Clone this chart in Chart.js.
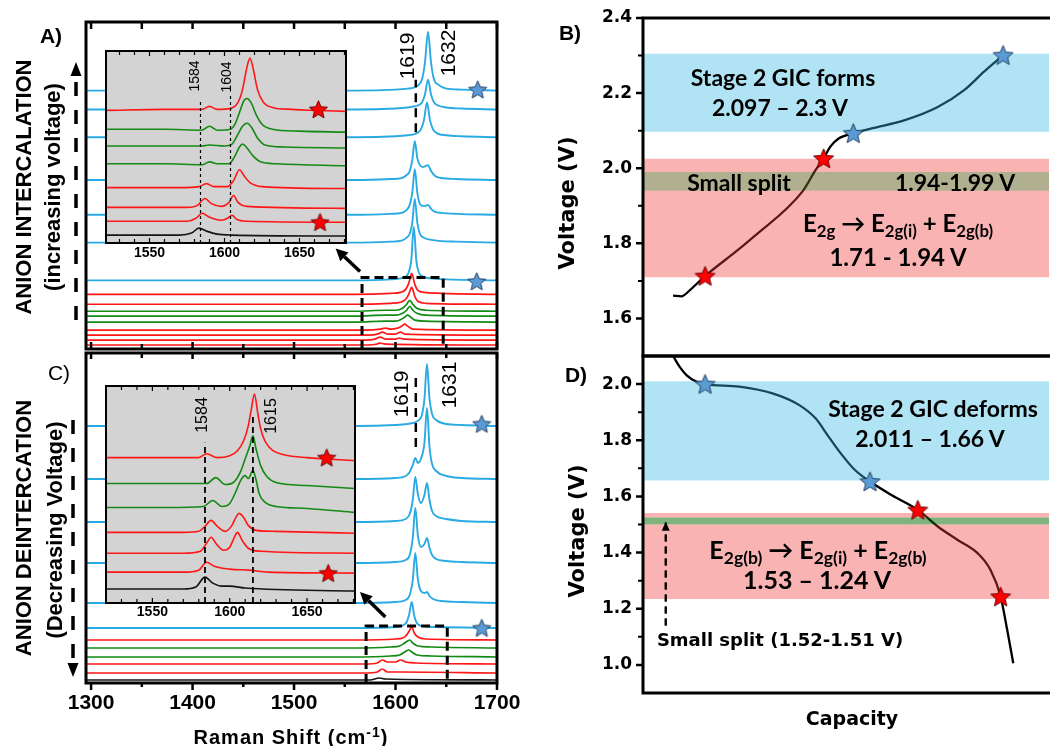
<!DOCTYPE html>
<html><head><meta charset="utf-8">
<script src="https://cdn.jsdelivr.net/npm/chart.js@4.4.1/dist/chart.umd.min.js"></script>
<style>
html,body{margin:0;padding:0;background:#fff}
body{width:1050px;height:746px;overflow:hidden;position:relative}
canvas{position:absolute;display:block}
.t{position:absolute;white-space:nowrap;transform:translate(-50%,-50%);line-height:1;color:#000}
.r{transform:translate(-50%,-50%) rotate(-90deg)}
.ar{font-family:'Liberation Sans',Arial,sans-serif}
.dj{font-family:'DejaVu Sans',sans-serif;font-weight:bold}
.lt{font-family:Lato,'Open Sans',sans-serif;font-weight:bold}
.s{font-size:0.7em;position:relative;top:0.3em;line-height:0}
.sp{font-size:0.7em;position:relative;top:-0.5em;line-height:0}
</style></head><body>
<canvas id="cA" width="540" height="360" style="left:0;top:0"></canvas>
<canvas id="cC" width="540" height="406" style="left:0;top:340px"></canvas>
<canvas id="cIA" width="265" height="230" style="left:95px;top:40px"></canvas>
<canvas id="cIC" width="275" height="250" style="left:95px;top:375px"></canvas>
<canvas id="cB" width="520" height="392" style="left:540px;top:-12px"></canvas>
<canvas id="cD" width="520" height="420" style="left:540px;top:326px"></canvas>

<div class="t ar" style="left:51px;top:35px;font-size:21px;font-weight:bold">A)</div>
<div class="t ar" style="left:59px;top:372px;font-size:21px">C)</div>
<div class="t r ar" style="left:24px;top:187px;font-size:22px;font-weight:bold">ANION INTERCALATION</div>
<div class="t r ar" style="left:53px;top:187px;font-size:22px;font-weight:bold">(increasing voltage)</div>
<div class="t r ar" style="left:24px;top:528px;font-size:22px;font-weight:bold">ANION DEINTERCATION</div>
<div class="t r ar" style="left:55px;top:530px;font-size:22px;font-weight:bold">(Decreasing Voltage)</div>
<div class="t r ar" style="left:406px;top:56px;font-size:21px">1619</div>
<div class="t r ar" style="left:447px;top:53px;font-size:21px">1632</div>
<div class="t r ar" style="left:400px;top:394px;font-size:21px">1619</div>
<div class="t r ar" style="left:448px;top:385px;font-size:21px">1631</div>
<div class="t r ar" style="left:194px;top:76px;font-size:14px">1584</div>
<div class="t r ar" style="left:226px;top:77px;font-size:14px">1604</div>
<div class="t r ar" style="left:202px;top:415px;font-size:16px">1584</div>
<div class="t r ar" style="left:271px;top:416px;font-size:16px">1615</div>
<div class="t ar" style="left:291px;top:737px;font-size:20px;font-weight:bold;letter-spacing:1px">Raman Shift (cm<span class="sp">-1</span>)</div>

<div class="t ar" style="left:570px;top:32px;font-size:21px;font-weight:bold">B)</div>
<div class="t ar" style="left:576px;top:374px;font-size:21px;font-weight:bold">D)</div>
<div class="t r dj" style="left:567px;top:203px;font-size:21px">Voltage (V)</div>
<div class="t r dj" style="left:577px;top:531px;font-size:21px">Voltage (V)</div>
<div class="t dj" style="left:852px;top:718px;font-size:19px">Capacity</div>
<div class="t lt" style="left:783px;top:77px;font-size:23px">Stage 2 GIC forms</div>
<div class="t lt" style="left:780px;top:107px;font-size:23px">2.097 – 2.3 V</div>
<div class="t lt" style="left:739px;top:182px;font-size:23px">Small split</div>
<div class="t lt" style="left:955px;top:182px;font-size:23px">1.94-1.99 V</div>
<div class="t lt" style="left:898px;top:223px;font-size:24px">E<span class="s">2g</span> → E<span class="s">2g(i)</span> + E<span class="s">2g(b)</span></div>
<div class="t lt" style="left:898px;top:257px;font-size:24px">1.71 - 1.94 V</div>
<div class="t lt" style="left:933px;top:408px;font-size:23px">Stage 2 GIC deforms</div>
<div class="t lt" style="left:930px;top:438px;font-size:23px">2.011 – 1.66 V</div>
<div class="t lt" style="left:818px;top:549px;font-size:25px">E<span class="s">2g(b)</span> → E<span class="s">2g(i)</span> + E<span class="s">2g(b)</span></div>
<div class="t lt" style="left:817px;top:579px;font-size:25px">1.53 – 1.24 V</div>
<div class="t dj" style="left:780px;top:640px;font-size:18px">Small split (1.52-1.51 V)</div>

<script>
// ================= DATA =================
// tick labels
const mainTickLabels = [1300, 1400, 1500, 1600, 1700];
const mainMinorTicks = [1350, 1450, 1550, 1650];
const insetTickLabels = [1550, 1600, 1650];
const insetMinorTicks = [1530, 1540, 1560, 1570, 1580, 1590, 1610, 1620, 1630, 1640, 1660, 1670, 1680];
const B_yTicks = [1.6, 1.8, 2.0, 2.2, 2.4];
const B_yMinor = [1.7, 1.9, 2.1, 2.3];
const D_yTicks = [1.0, 1.2, 1.4, 1.6, 1.8, 2.0];
const D_yMinor = [1.1, 1.3, 1.5, 1.7, 1.9];

// Panel A (intercalation): [Raman shift cm-1, intensity above own baseline]
const A_offsets = [260, 241, 213, 170, 135, 107, 69];
const A_c1 = [[1295,0],[1560,0],[1600,1],[1612,2],[1618,3],[1622,5],[1626,11],[1629,28],[1632,59],[1635,28],[1638,11],[1642,6],[1650,2],[1665,1],[1700,0]];
const A_c2 = [[1295,0],[1560,0],[1600,1],[1612,2],[1618,3],[1622,4],[1626,7],[1629,15],[1632,30],[1635,15],[1638,7],[1642,4],[1650,2],[1665,1],[1700,0]];
const A_c3 = [[1295,0],[1560,0],[1600,1],[1612,2],[1618,3],[1621,4],[1625,8],[1628,17],[1631,35],[1634,17],[1637,8],[1641,4],[1650,2],[1665,1],[1700,0]];
const A_c4 = [[1295,0],[1560,0],[1595,1],[1606,2],[1611,5],[1614,9],[1616.5,20],[1619,39],[1621.5,22],[1624,15],[1627,13],[1629.5,14],[1632,15],[1635,9],[1639,4],[1645,2],[1660,1],[1700,0]];
const A_c5 = [[1295,0],[1560,0],[1595,1],[1606,2],[1611,5],[1614,10],[1616.5,22],[1619,46],[1621.5,22],[1624,11],[1627,9],[1629.5,9],[1632,10],[1635,6],[1639,3],[1645,2],[1660,1],[1700,0]];
const A_c6 = [[1295,0],[1560,0],[1595,1],[1606,2],[1611,5],[1614,9],[1616.5,20],[1619,44],[1621.5,20],[1624,9],[1628,5],[1634,3],[1645,1.5],[1660,1],[1700,0]];
const A_c7 = [[1295,0],[1560,0],[1595,1],[1605,2],[1610,4],[1613,8],[1615.5,20],[1618,54],[1620.5,20],[1623,8],[1627,4],[1635,2],[1650,1],[1700,0]];
const A_lowOffsets = [55, 45, 38, 33, 27, 19, 14, 9, 4];
const A_lowColors = ['red','red','green','green','green','red','red','red','red'];
const A_l1 = [[1295,0],[1560,0],[1595,1],[1605,2],[1610,5],[1613,11],[1616,21],[1619,10],[1622,4],[1628,2],[1645,1],[1700,0]];
const A_l2 = [[1295,0],[1560,0],[1595,1],[1605,2],[1610,5],[1613,10],[1616,17],[1619,8],[1622,3],[1630,1],[1700,0]];
const A_l3 = [[1295,0],[1560,0],[1590,1],[1600,1],[1607,3],[1611,7],[1614,11],[1617,7],[1621,3],[1630,1],[1700,0]];
const A_l4 = [[1295,0],[1560,0],[1590,1],[1600,1],[1607,3],[1611,6],[1614,10],[1617,6],[1621,3],[1630,1],[1700,0]];
const A_l5 = [[1295,0],[1560,0],[1590,1],[1600,1],[1606,3],[1609,5],[1612,7],[1615,5],[1619,2],[1630,1],[1700,0]];
const A_l6 = [[1295,0],[1570,0],[1585,1],[1590,2],[1595,1],[1602,2],[1606,4],[1609,6],[1612,4],[1617,1],[1700,0]];
const A_l7 = [[1295,0],[1570,0],[1582,1],[1587,3],[1592,1],[1600,1],[1605,3],[1609,1],[1700,0]];
const A_l8 = [[1295,0],[1570,0],[1580,1],[1585,3],[1590,1],[1600,1],[1604,2],[1608,1],[1700,0]];
const A_l9 = [[1295,0],[1570,0],[1582,1],[1584,2],[1590,1],[1700,0]];
const A_stars = [[1681,261],[1680,68]];
const A_box = [[1567,0],[1567,72],[1647,72],[1647,0]];
const A_mark1619 = [[1620,218],[1620,271]];
const A_arrow = [[1565,78],[1541,101]];

// Inset A (absolute intensities)
const IA_red1 = [[1521,134],[1560,135],[1585,135],[1590,138],[1595,135],[1604,136],[1609,142],[1612,155],[1615,178],[1617,187],[1619,177],[1622,155],[1626,142],[1632,137],[1645,135],[1660,134],[1681,133]];
const IA_green1 = [[1521,115],[1560,115],[1585,114],[1590,118],[1595,114],[1604,115],[1607,120],[1610,132],[1613,144],[1615,146],[1618,141],[1621,130],[1625,120],[1632,115],[1650,113],[1681,112]];
const IA_green2 = [[1521,98],[1560,98],[1585,98],[1590,99],[1600,98],[1605,100],[1609,110],[1612,118],[1615,121],[1618,117],[1622,106],[1627,99],[1640,97],[1681,96]];
const IA_green3 = [[1521,80],[1560,80],[1585,79],[1590,82],[1595,80],[1603,80],[1607,88],[1610,97],[1612,100],[1615,96],[1619,88],[1624,82],[1635,80],[1681,78]];
const IA_red2 = [[1521,56],[1570,56],[1583,57],[1588,60],[1593,57],[1602,57],[1606,63],[1610,74],[1613,68],[1617,61],[1625,57],[1681,55]];
const IA_red3 = [[1521,36],[1575,36],[1582,38],[1587,45],[1591,40],[1598,37],[1603,41],[1606,48],[1609,41],[1615,37],[1681,35]];
const IA_red4 = [[1521,22],[1575,22],[1581,25],[1585,30],[1590,26],[1598,23],[1602,25],[1605,28],[1608,24],[1615,22],[1681,21]];
const IA_black = [[1521,8],[1570,8],[1578,10],[1583,15],[1588,12],[1595,9],[1605,8],[1681,7]];
const IA_stars = [[1662.6,135],[1663.7,21]];
const IA_d1584 = [[1584,0],[1584,145]];
const IA_d1604 = [[1604,0],[1604,151]];

// Panel C (deintercalation)
const C_offsets = [257, 204, 161, 120, 80, 55];
const C_c1 = [[1295,0],[1560,0],[1600,1],[1612,2],[1617,3],[1620,4],[1623,6],[1626,11],[1628.5,27],[1631,62],[1633.5,27],[1636,12],[1640,6],[1650,2],[1665,1],[1700,0]];
const C_c2 = [[1295,0],[1560,0],[1600,1],[1610,3],[1614,7],[1617,14],[1619.5,21],[1622,16],[1625,20],[1628.5,36],[1631,71],[1633.5,32],[1636,15],[1640,8],[1650,3],[1665,1],[1700,0]];
const C_c3 = [[1295,0],[1560,0],[1600,1],[1610,3],[1614,8],[1617,22],[1619.5,45],[1622,28],[1625,19],[1628.5,27],[1631,39],[1633.5,22],[1636,11],[1640,6],[1650,3],[1665,1],[1700,0]];
const C_c4 = [[1295,0],[1560,0],[1600,1],[1610,3],[1614,8],[1617,25],[1619.5,55],[1622,28],[1625,16],[1628.5,19],[1631,25],[1633.5,15],[1636,8],[1640,4],[1650,2],[1665,1],[1700,0]];
const C_c5 = [[1295,0],[1560,0],[1600,1],[1610,3],[1614,8],[1617,23],[1619.5,50],[1622,24],[1625,12],[1628.5,10],[1631,11],[1633.5,7],[1637,4],[1645,2],[1665,1],[1700,0]];
const C_c6 = [[1295,0],[1560,0],[1600,1],[1608,3],[1611,6],[1613.5,14],[1616,26],[1618.5,12],[1621,5],[1626,2],[1640,1],[1700,0]];
const C_lowOffsets = [43, 35, 26, 19, 10, 3];
const C_lowColors = ['red','green','green','red','red','black'];
const C_l1 = [[1295,0],[1560,0],[1600,1],[1607,2],[1611,5],[1613.5,9],[1616,13],[1618.5,7],[1622,3],[1630,1],[1700,0]];
const C_l2 = [[1295,0],[1560,0],[1595,1],[1604,2],[1609,5],[1614,8],[1617,5],[1622,2],[1635,1],[1700,0]];
const C_l3 = [[1295,0],[1560,0],[1595,1],[1604,2],[1609,5],[1613,7],[1616,5],[1621,2],[1635,1],[1700,0]];
const C_l4 = [[1295,0],[1570,0],[1582,1],[1587,4],[1592,2],[1600,2],[1605,4],[1610,2],[1620,1],[1700,0]];
const C_l5 = [[1295,0],[1570,0],[1582,1],[1587,4],[1592,1],[1605,1],[1700,0]];
const C_l6 = [[1295,0],[1575,0],[1584,2],[1590,1],[1700,0]];
const C_stars = [[1685,259],[1685,55]];
const C_box = [[1571,0],[1571,57],[1651,57],[1651,0]];
const C_mark1619 = [[1620,236],[1620,310]];
const C_arrow = [[1590,66],[1565,91]];

// Inset C
const IC_red1 = [[1520,146],[1560,146],[1580,146],[1585,150],[1592,146],[1600,148],[1605,153],[1609,163],[1612,178],[1614,195],[1616,210],[1618,192],[1620,175],[1623,162],[1628,153],[1635,149],[1650,146],[1681,143]];
const IC_green1 = [[1520,120],[1560,120],[1585,120],[1591,126],[1597,119],[1603,122],[1607,132],[1610,145],[1613,158],[1615,168],[1617,155],[1620,138],[1624,127],[1630,121],[1650,118],[1681,115]];
const IC_green2 = [[1520,96],[1560,96],[1583,97],[1589,103],[1595,97],[1600,100],[1604,112],[1607,123],[1610,128],[1612,125],[1615,133],[1617,124],[1619,110],[1623,101],[1630,97],[1650,95],[1681,91]];
const IC_red2 = [[1520,71],[1570,71],[1580,72],[1584,77],[1588,83],[1592,77],[1597,72],[1601,77],[1604,86],[1606,90],[1609,86],[1612,78],[1617,73],[1630,72],[1681,70]];
const IC_red3 = [[1520,50],[1570,50],[1581,52],[1585,60],[1588,66],[1591,60],[1596,53],[1600,56],[1603,66],[1605,71],[1608,63],[1612,55],[1620,52],[1681,50]];
const IC_red4 = [[1520,31],[1570,31],[1580,33],[1585,41],[1590,37],[1600,34],[1612,33],[1625,31],[1681,30]];
const IC_black = [[1520,14],[1570,14],[1578,16],[1584,26],[1589,20],[1595,17],[1600,17],[1610,15],[1681,12]];
const IC_stars = [[1662.7,146],[1663.7,30]];
const IC_d1584 = [[1584,0],[1584,161]];
const IC_d1615 = [[1615,0],[1615,188]];

// Panel B: charge curve (capacity a.u., voltage V)
const B_capacity = [7.4, 9.5, 11.5, 15.3, 23.7, 27.0, 39.2, 42.5, 44.5, 46.1, 48.2, 51.8, 56.3, 64.5, 72.6, 79.1, 84.0, 88.7];
const B_voltage  = [1.661, 1.659, 1.675, 1.713, 1.785, 1.815, 1.937, 1.995, 2.026, 2.057, 2.079, 2.093, 2.106, 2.128, 2.163, 2.208, 2.257, 2.301];
const B_redStars = [[15.3,1.713],[44.5,2.026]];
const B_blueStars = [[51.8,2.093],[88.7,2.301]];
const B_blueBand = [2.097, 2.305];
const B_redBandLow = [1.71, 1.94];
const B_oliveBand = [1.94, 1.99];
const B_redBandHigh = [1.99, 2.025];

// Panel D: discharge curve
const D_capacity = [7.4, 9.0, 10.7, 13.1, 15.3, 23.7, 31.9, 38.4, 42.5, 45.7, 49.0, 52.2, 55.9, 61.2, 67.7, 72.6, 77.5, 82.4, 85.6, 88.1, 89.7, 91.2];
const D_voltage  = [2.100, 2.062, 2.032, 2.009, 2.000, 1.991, 1.967, 1.926, 1.878, 1.813, 1.748, 1.694, 1.653, 1.605, 1.552, 1.493, 1.445, 1.398, 1.338, 1.243, 1.125, 1.006];
const D_blueStars = [[15.3,2.0],[55.9,1.653]];
const D_redStars = [[67.7,1.552],[88.1,1.243]];
const D_blueBand = [1.657, 2.01];
const D_redBand = [1.235, 1.50];
const D_greenBand = [1.50, 1.525];
const D_redBandTop = [1.525, 1.541];
const D_splitArrow = [[5.6,1.14],[5.6,1.51]];

// ================= RENDERING =================
Chart.defaults.font.family = "'Liberation Sans', Arial, sans-serif";
Chart.defaults.color = '#000';
const COL = {cyan:'#2aaae2', red:'#ff1616', green:'#138a13', black:'#151515'};

function makeStar(size, fill, stroke){
  const c = document.createElement('canvas'); c.width = size; c.height = size;
  const g = c.getContext('2d'); const R = size/2 - 1, r = R*0.45, cx = size/2, cy = size/2 + R*0.08;
  g.beginPath();
  for (let i = 0; i < 10; i++){ const a = -Math.PI/2 + i*Math.PI/5; const rr = i%2 ? r : R; g.lineTo(cx + rr*Math.cos(a), cy + rr*Math.sin(a)); }
  g.closePath(); g.fillStyle = fill; g.fill(); g.lineWidth = 1; g.strokeStyle = stroke; g.stroke();
  return c;
}
const starBlue = makeStar(21, '#5b9bd5', '#243f60');
const starRed = makeStar(21, '#ff0000', '#6b0000');
const starBlueL = makeStar(23, '#5b9bd5', '#243f60');
const starRedL = makeStar(23, '#ff0000', '#6b0000');

function trace(pts, off, color, w){
  return {data: pts.map(p => ({x:p[0], y:p[1] + off})), borderColor: color, borderWidth: w, pointRadius: 0, fill: false, cubicInterpolationMode: 'monotone', order: 2};
}
function poly(pts, color, w, dash){
  return {data: pts.map(p => ({x:p[0], y:p[1]})), borderColor: color, borderWidth: w, borderDash: dash || [], pointRadius: 0, fill: false, tension: 0, order: 1};
}
function stars(pts, img){
  return {data: pts.map(p => ({x:p[0], y:p[1]})), showLine: false, pointStyle: img, pointRadius: 10, order: 0};
}
function band(range, color){
  return {data: [{x:0, y:range[1]}, {x:100, y:range[1]}], fill: {value: range[0]}, backgroundColor: color, borderWidth: 0, pointRadius: 0, order: 1};
}
function curve(xs, ys){
  return {data: xs.map((x,i) => ({x, y: ys[i]})), borderColor: '#000', borderWidth: 2.3, pointRadius: 0, fill: false, cubicInterpolationMode: 'monotone', order: 2};
}

function drawArrow(c, p0, p1, lw, head, dash){
  const ang = Math.atan2(p1[1]-p0[1], p1[0]-p0[0]);
  const hl = head[0], hw = head[1];
  const bx = p1[0] - hl*Math.cos(ang), by = p1[1] - hl*Math.sin(ang);
  c.save(); c.strokeStyle = '#000'; c.fillStyle = '#000'; c.lineWidth = lw; c.setLineDash(dash || []);
  c.beginPath(); c.moveTo(p0[0], p0[1]); c.lineTo(bx, by); c.stroke(); c.setLineDash([]);
  c.beginPath(); c.moveTo(p1[0], p1[1]);
  c.lineTo(bx + hw/2*Math.sin(ang), by - hw/2*Math.cos(ang));
  c.lineTo(bx - hw/2*Math.sin(ang), by + hw/2*Math.cos(ang));
  c.closePath(); c.fill(); c.restore();
}

function decoPlugin(o){
  return {
    id: 'deco',
    beforeDraw(chart){
      if (o.bg){ const a = chart.chartArea, c = chart.ctx; c.save(); c.fillStyle = o.bg; c.fillRect(a.left, a.top, a.right-a.left, a.bottom-a.top); c.restore(); }
    },
    afterDatasetsDraw(chart){
      const c = chart.ctx, sx = chart.scales.x, sy = chart.scales.y;
      (o.arrows || []).forEach(ar => {
        const p0 = [sx.getPixelForValue(ar.pts[0][0]), sy.getPixelForValue(ar.pts[0][1])];
        const p1 = [sx.getPixelForValue(ar.pts[1][0]), sy.getPixelForValue(ar.pts[1][1])];
        drawArrow(c, p0, p1, ar.lw, ar.head, ar.dash);
      });
    },
    afterDraw(chart){
      const c = chart.ctx, a = chart.chartArea, sx = chart.scales.x, sy = chart.scales.y;
      c.save(); c.strokeStyle = '#000';
      (o.xt || []).forEach(t => {
        c.lineWidth = t.lw; c.beginPath();
        t.v.forEach(v => { const x = sx.getPixelForValue(v); const y0 = t.edge === 'top' ? a.top : a.bottom; const dir = t.edge === 'top' ? 1 : -1; c.moveTo(x, y0); c.lineTo(x, y0 + dir*t.len); });
        c.stroke();
      });
      (o.yt || []).forEach(t => {
        c.lineWidth = t.lw; c.beginPath();
        t.v.forEach(v => { const y = sy.getPixelForValue(v); c.moveTo(a.left, y); c.lineTo(a.left - t.len, y); });
        c.stroke();
      });
      if (o.frame){
        c.lineWidth = o.frame.lw; c.lineCap = 'square'; c.beginPath(); const s = o.frame.sides;
        if (s.includes('t')){ c.moveTo(a.left, a.top); c.lineTo(a.right, a.top); }
        if (s.includes('b')){ c.moveTo(a.left, a.bottom); c.lineTo(a.right, a.bottom); }
        if (s.includes('l')){ c.moveTo(a.left, a.top); c.lineTo(a.left, a.bottom); }
        if (s.includes('r')){ c.moveTo(a.right, a.top); c.lineTo(a.right, a.bottom); }
        c.stroke();
      }
      c.restore();
      if (o.extra) o.extra(c);
    }
  };
}

function baseOpts(pad, xs, ys){
  return {responsive: false, animation: false, devicePixelRatio: 1, events: [],
    layout: {padding: pad},
    plugins: {legend: {display: false}, tooltip: {enabled: false}},
    scales: {x: xs, y: ys}};
}
function xAxisWithLabels(min, max, labels, font, pad, h){
  return {type: 'linear', min, max, position: 'bottom',
    grid: {display: false, drawTicks: false}, border: {display: false},
    ticks: {font, padding: pad, color: '#000', maxRotation: 0, autoSkip: false, callback: v => String(v)},
    afterBuildTicks: s => { s.ticks = labels.map(v => ({value: v})); },
    afterFit: s => { s.height = h; }};
}
function yAxisWithLabels(min, max, labels, w){
  return {type: 'linear', min, max,
    grid: {display: false, drawTicks: false}, border: {display: false},
    ticks: {font: {family: "'DejaVu Sans', sans-serif", weight: 'bold', size: 17}, padding: 11, color: '#000', autoSkip: false, callback: v => Number(v).toFixed(1)},
    afterBuildTicks: s => { s.ticks = labels.map(v => ({value: v})); },
    afterFit: s => { s.width = w; }};
}

// ---------- Panel A ----------
const A_cyan = [A_c1, A_c2, A_c3, A_c4, A_c5, A_c6, A_c7];
const A_low = [A_l1, A_l2, A_l3, A_l4, A_l5, A_l6, A_l7, A_l8, A_l9];
new Chart(document.getElementById('cA'), {
  type: 'line',
  data: {datasets: [
    stars(A_stars, starBlue),
    poly(A_box, '#000', 3, [9, 5]),
    poly(A_mark1619, '#000', 2.5, [9, 6]),
    ...A_cyan.map((t, i) => trace(t, A_offsets[i], COL.cyan, 1.9)),
    ...A_low.map((t, i) => trace(t, A_lowOffsets[i], COL[A_lowColors[i]], 1.7))
  ]},
  options: baseOpts({left: 86, top: 22, right: 43, bottom: 9},
    {type: 'linear', display: false, min: 1295, max: 1700},
    {display: false, min: 0, max: 329}),
  plugins: [decoPlugin({
    frame: {sides: 'tlbr', lw: 3},
    xt: [{v: mainTickLabels, edge: 'top', len: 7, lw: 2.5}, {v: mainMinorTicks, edge: 'top', len: 7, lw: 2.5},
         {v: mainTickLabels, edge: 'bottom', len: 7, lw: 2.5}, {v: mainMinorTicks, edge: 'bottom', len: 5, lw: 2.5}],
    arrows: [{pts: A_arrow, lw: 3.5, head: [12, 12]}],
    extra: c => drawArrow(c, [76, 320], [76, 62], 3.5, [14, 11], [14, 14])
  })]
});

// ---------- Panel C ----------
const C_cyan = [C_c1, C_c2, C_c3, C_c4, C_c5, C_c6];
const C_low = [C_l1, C_l2, C_l3, C_l4, C_l5, C_l6];
new Chart(document.getElementById('cC'), {
  type: 'line',
  data: {datasets: [
    stars(C_stars, starBlue),
    poly(C_box, '#000', 3, [9, 5]),
    poly(C_mark1619, '#000', 2.5, [9, 6]),
    ...C_cyan.map((t, i) => trace(t, C_offsets[i], COL.cyan, 1.9)),
    ...C_low.map((t, i) => trace(t, C_lowOffsets[i], COL[C_lowColors[i]], 1.7))
  ]},
  options: baseOpts({left: 86, top: 13, right: 43, bottom: 0},
    xAxisWithLabels(1295, 1700, mainTickLabels, {weight: 'bold', size: 21}, 8, 63),
    {display: false, min: 0, max: 330}),
  plugins: [decoPlugin({
    frame: {sides: 'tlbr', lw: 3},
    xt: [{v: mainTickLabels, edge: 'top', len: 6, lw: 2.5}, {v: mainMinorTicks, edge: 'top', len: 5, lw: 2.5},
         {v: mainTickLabels, edge: 'bottom', len: -7, lw: 2.5}, {v: mainMinorTicks, edge: 'bottom', len: -4, lw: 2.5}],
    arrows: [{pts: C_arrow, lw: 3.5, head: [12, 12]}],
    extra: c => drawArrow(c, [73, 80], [73, 337], 3.5, [14, 11], [14, 14])
  })]
});

// ---------- Inset A ----------
const IA_traces = [IA_red1, IA_green1, IA_green2, IA_green3, IA_red2, IA_red3, IA_red4, IA_black];
const IA_colors = ['red','green','green','green','red','red','red','black'];
new Chart(document.getElementById('cIA'), {
  type: 'line',
  data: {datasets: [
    stars(IA_stars, starRed),
    poly(IA_d1584, '#000', 1.2, [3, 3]),
    poly(IA_d1604, '#000', 1.2, [3, 3]),
    ...IA_traces.map((t, i) => trace(t, 0, COL[IA_colors[i]], 1.6))
  ]},
  options: baseOpts({left: 10, top: 9, right: 14, bottom: 0},
    xAxisWithLabels(1521, 1681, insetTickLabels, {weight: 'bold', size: 14}, 2, 27),
    {display: false, min: 0, max: 194}),
  plugins: [decoPlugin({
    bg: '#d3d3d3', frame: {sides: 'tlbr', lw: 2},
    xt: [{v: insetTickLabels, edge: 'top', len: 5, lw: 1.2}, {v: insetMinorTicks, edge: 'top', len: 4, lw: 1.2},
         {v: insetTickLabels, edge: 'bottom', len: 5, lw: 1.2}, {v: insetMinorTicks, edge: 'bottom', len: 4, lw: 1.2}]
  })]
});

// ---------- Inset C ----------
const IC_traces = [IC_red1, IC_green1, IC_green2, IC_red2, IC_red3, IC_red4, IC_black];
const IC_colors = ['red','green','green','red','red','red','black'];
new Chart(document.getElementById('cIC'), {
  type: 'line',
  data: {datasets: [
    stars(IC_stars, starRed),
    poly(IC_d1584, '#000', 1.8, [6, 4]),
    poly(IC_d1615, '#000', 1.8, [6, 4]),
    ...IC_traces.map((t, i) => trace(t, 0, COL[IC_colors[i]], 1.6))
  ]},
  options: baseOpts({left: 11, top: 10, right: 15, bottom: 0},
    xAxisWithLabels(1520, 1681, insetTickLabels, {weight: 'bold', size: 14}, 1, 22),
    {display: false, min: 0, max: 218}),
  plugins: [decoPlugin({
    bg: '#d3d3d3', frame: {sides: 'tlbr', lw: 2},
    xt: [{v: insetTickLabels, edge: 'top', len: 5, lw: 1.2}, {v: insetMinorTicks, edge: 'top', len: 4, lw: 1.2},
         {v: insetTickLabels, edge: 'bottom', len: 5, lw: 1.2}, {v: insetMinorTicks, edge: 'bottom', len: 4, lw: 1.2}]
  })]
});

// ---------- Panel B ----------
const BLUE_BAND = 'rgba(51,186,229,0.39)', RED_BAND = 'rgba(242,58,58,0.39)', OLIVE_BAND = 'rgba(97,97,33,0.5)', GREEN_BAND = 'rgba(0,105,0,0.5)';
new Chart(document.getElementById('cB'), {
  type: 'line',
  data: {datasets: [
    stars(B_redStars, starRedL),
    stars(B_blueStars, starBlueL),
    band(B_blueBand, BLUE_BAND),
    band(B_redBandLow, RED_BAND),
    band(B_oliveBand, OLIVE_BAND),
    band(B_redBandHigh, RED_BAND),
    curve(B_capacity, B_voltage)
  ]},
  options: baseOpts({left: 0, top: 30, right: 8, bottom: 24},
    {type: 'linear', display: false, min: 0, max: 100},
    yAxisWithLabels(1.5, 2.4, B_yTicks, 103)),
  plugins: [decoPlugin({
    frame: {sides: 'tlb', lw: 3},
    yt: [{v: B_yTicks, len: 7, lw: 2.5}, {v: B_yMinor, len: 5, lw: 2}]
  })]
});

// ---------- Panel D ----------
new Chart(document.getElementById('cD'), {
  type: 'line',
  data: {datasets: [
    stars(D_redStars, starRedL),
    stars(D_blueStars, starBlueL),
    poly(D_splitArrow, '#000', 2, [7, 5]),
    band(D_blueBand, BLUE_BAND),
    band(D_redBand, RED_BAND),
    band(D_greenBand, GREEN_BAND),
    band(D_redBandTop, RED_BAND),
    curve(D_capacity, D_voltage)
  ]},
  options: baseOpts({left: 0, top: 30, right: 8, bottom: 53},
    {type: 'linear', display: false, min: 0, max: 100},
    yAxisWithLabels(0.9, 2.1, D_yTicks, 103)),
  plugins: [decoPlugin({
    frame: {sides: 'tlb', lw: 3},
    yt: [{v: D_yTicks, len: 7, lw: 2.5}, {v: D_yMinor, len: 5, lw: 2}],
    arrows: [{pts: D_splitArrow, lw: 2, head: [9, 8], dash: [7, 5]}]
  })]
});
</script>
</body></html>
